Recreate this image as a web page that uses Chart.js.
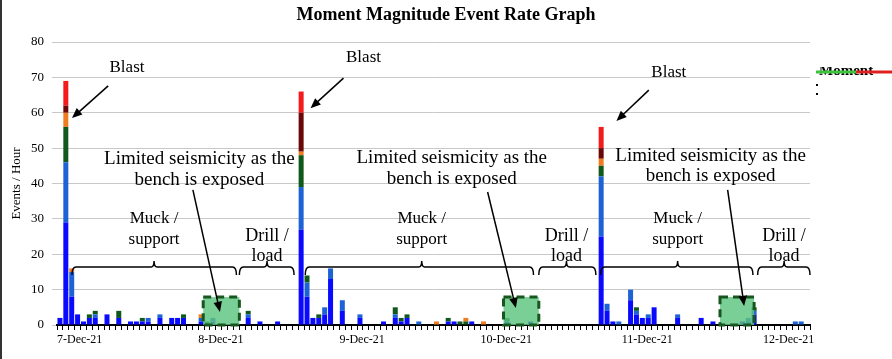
<!DOCTYPE html>
<html>
<head>
<meta charset="utf-8">
<script src="https://cdn.jsdelivr.net/npm/chart.js@4.4.7/dist/chart.umd.min.js"></script>
<style>
  html, body { margin: 0; padding: 0; background: #fff; }
</style>
</head>
<body>
<canvas id="chart" width="892" height="359"></canvas>
<script>
// one bar per hour, 7-Dec-21 00:00 onwards
const days = ['7-Dec-21', '8-Dec-21', '9-Dec-21', '10-Dec-21', '11-Dec-21', '12-Dec-21'];
const hourCount = 128;

const seriesNames = ['Mw < -2.5', '-2.5 to -2.0', '-2.0 to -1.5', '-1.5 to -1.0', '-1.0 to -0.5', 'Mw > -0.5'];
const seriesColors = ['#0a0aff', '#1e63d6', '#10581c', '#f07c22', '#6a0808', '#f21c1c'];

// events per hour, one line per day
const band1 = [
  2,29,8,3,1,2,2,0,3,0,2,0,1,1,1,1,0,2,0,2,2,2,0,0,
  1,0,1,0,0,0,0,0,2,0,1,0,0,1,0,0,0,27,8,2,2,3,13,0,
  4,0,0,2,0,0,0,1,0,2,1,2,0,0,0,0,0,0,1,1,0,0,1,0,
  0,0,0,0,1,0,0,0,1,0,0,0,0,0,0,0,0,0,0,0,25,4,1,0,
  0,7,3,2,2,5,0,0,0,2,0,0,0,2,0,1,0,0,0,0,1,1,3,0,
  0,0,0,0,0,0,0,0
];
const band2 = [
  0,17,7,0,0,0,1,0,0,0,0,0,0,0,0,1,0,1,0,0,0,0,0,0,
  1,0,1,0,0,0,0,0,1,0,0,0,0,0,0,0,0,12,4,0,0,2,3,0,
  3,0,0,1,0,0,0,0,0,1,0,0,0,1,0,0,0,0,0,0,0,0,0,0,
  0,0,0,0,0,0,0,0,0,0,0,0,0,0,0,0,0,0,0,0,17,2,0,1,
  0,3,1,0,1,0,0,0,0,1,0,0,0,0,0,0,0,0,0,0,0,1,1,0,
  0,0,0,0,0,1,1,0
];
const band3 = [
  0,10,0,0,0,1,1,0,0,0,2,0,0,0,1,0,0,0,0,0,0,1,0,0,
  0,1,0,0,0,0,0,0,1,0,0,0,0,0,0,0,0,9,2,0,1,0,0,0,
  0,0,0,0,0,0,0,0,0,2,1,1,0,0,0,0,0,0,1,0,1,1,0,0,
  0,0,0,0,1,0,0,0,0,0,0,0,0,0,0,0,0,0,0,0,3,0,0,0,
  0,0,1,0,0,0,0,0,0,0,0,0,0,0,0,0,0,0,0,0,0,0,1,0,
  0,0,0,0,0,0,0,0
];
const band4 = [
  0,4,1,0,0,0,0,0,0,0,0,0,0,0,0,0,0,0,0,0,0,0,0,0,
  1,0,0,0,0,0,0,0,0,0,0,0,0,0,0,0,0,1,0,0,0,0,0,0,
  0,0,0,0,0,0,0,0,0,0,0,0,0,0,0,0,1,0,0,0,0,1,0,0,
  1,0,0,0,0,0,0,0,0,0,0,0,0,0,0,0,0,0,0,0,2,0,0,0,
  0,0,0,0,0,0,0,0,0,0,0,0,0,0,0,0,0,0,0,0,0,0,0,0,
  0,0,0,0,0,0,0,0
];
const band5 = [
  0,2,0,0,0,0,0,0,0,0,0,0,0,0,0,0,0,0,0,0,0,0,0,0,
  0,0,0,0,0,0,0,0,0,0,0,0,0,0,0,0,0,11,0,0,0,0,0,0,
  0,0,0,0,0,0,0,0,0,0,0,0,0,0,0,0,0,0,0,0,0,0,0,0,
  0,0,0,0,0,0,0,0,0,0,0,0,0,0,0,0,0,0,0,0,3,0,0,0,
  0,0,0,0,0,0,0,0,0,0,0,0,0,0,0,0,0,0,0,0,0,0,0,0,
  0,0,0,0,0,0,0,0
];
const band6 = [
  0,7,0,0,0,0,0,0,0,0,0,0,0,0,0,0,0,0,0,0,0,0,0,0,
  0,0,0,0,0,0,0,0,0,0,0,0,0,0,0,0,0,6,0,0,0,0,0,0,
  0,0,0,0,0,0,0,0,0,0,0,0,0,0,0,0,0,0,0,0,0,0,0,0,
  0,0,0,0,0,0,0,0,0,0,0,0,0,0,0,0,0,0,0,0,6,0,0,0,
  0,0,0,0,0,0,0,0,0,0,0,0,0,0,0,0,0,0,0,0,0,0,0,0,
  0,0,0,0,0,0,0,0
];
const bands = [band1, band2, band3, band4, band5, band6];

// notes, x in hours from the axis start, y in events / hour
const blastNotes = [
  { text: [11.9, 72.9], from: [8.7, 67.6], to: [2.55, 58.5] },
  { text: [52.1, 75.5], from: [48.7, 69.8], to: [43.1, 61.3] },
  { text: [104, 71.5], from: [100.6, 66.4], to: [95.1, 57.7] }
];
const quietNotes = [
  { text: [24.2, 46.9, 41.0], from: [23.1, 38.2], to: [27.7, 3.7], box: [24.85, 31, 0, 7.9] },
  { text: [67.1, 47.2, 41.3], from: [73.2, 37.6], to: [78, 4.8], box: [75.9, 81.9, 0, 7.9] },
  { text: [111.1, 47.8, 42.1], from: [114, 38.2], to: [116.8, 5.4], box: [112.7, 118.5, 0, 7.9] }
];
const braces = [
  { from: 2.55, to: 30.5, mid: 16.5, lines: ['Muck /', 'support'] },
  { from: 31.0, to: 40.3, mid: 35.7, lines: ['Drill /', 'load'] },
  { from: 42.2, to: 81.0, mid: 62.0, lines: ['Muck /', 'support'] },
  { from: 81.9, to: 91.6, mid: 86.6, lines: ['Drill /', 'load'] },
  { from: 92.4, to: 118.3, mid: 105.5, lines: ['Muck /', 'support'] },
  { from: 119.1, to: 128, mid: 123.6, lines: ['Drill /', 'load'] }
];

const labels = [];
for (let i = 0; i < hourCount; i++) {
  labels.push(days[Math.floor(i / 24)] + ' ' + String(i % 24).padStart(2, '0') + ':00');
}

const serif = '"Liberation Serif", "Times New Roman", serif';

function arrow(ctx, x0, y0, x1, y1) {
  const a = Math.atan2(y1 - y0, x1 - x0);
  ctx.beginPath();
  ctx.moveTo(x0, y0);
  ctx.lineTo(x1 - 6 * Math.cos(a), y1 - 6 * Math.sin(a));
  ctx.stroke();
  ctx.beginPath();
  ctx.moveTo(x1, y1);
  ctx.lineTo(x1 - 11 * Math.cos(a - 0.4), y1 - 11 * Math.sin(a - 0.4));
  ctx.lineTo(x1 - 11 * Math.cos(a + 0.4), y1 - 11 * Math.sin(a + 0.4));
  ctx.closePath();
  ctx.fill();
}

const notesPlugin = {
  id: 'notes',
  beforeDraw(chart) {
    const ctx = chart.ctx;
    ctx.save();
    ctx.fillStyle = '#fff';
    ctx.fillRect(0, 0, chart.width, chart.height);
    ctx.fillStyle = '#333';
    ctx.fillRect(0, 0, 2, chart.height);
    ctx.restore();
  },
  afterDatasetsDraw(chart) {
    const ctx = chart.ctx;
    const xs = chart.scales.x, ys = chart.scales.y;
    const hx = h => xs.left + h * xs.width / hourCount;
    const vy = v => ys.getPixelForValue(v);
    ctx.save();

    // green boxes
    quietNotes.forEach(n => {
      const [h0, h1, v0, v1] = n.box;
      ctx.fillStyle = 'rgba(92,196,126,0.82)';
      ctx.fillRect(hx(h0), vy(v1), hx(h1) - hx(h0), vy(v0) - vy(v1));
      ctx.setLineDash([8, 5]);
      ctx.lineWidth = 3;
      ctx.strokeStyle = '#17561f';
      ctx.strokeRect(hx(h0), vy(v1), hx(h1) - hx(h0), vy(v0) - vy(v1));
      ctx.setLineDash([]);
    });

    ctx.fillStyle = '#000';
    ctx.strokeStyle = '#000';
    ctx.lineWidth = 1.5;
    ctx.textAlign = 'center';
    ctx.textBaseline = 'middle';

    ctx.font = '17px ' + serif;
    blastNotes.forEach(n => {
      ctx.fillText('Blast', hx(n.text[0]), vy(n.text[1]));
      arrow(ctx, hx(n.from[0]), vy(n.from[1]), hx(n.to[0]), vy(n.to[1]));
    });

    ctx.font = '19px ' + serif;
    quietNotes.forEach(n => {
      ctx.fillText('Limited seismicity as the', hx(n.text[0]), vy(n.text[1]));
      ctx.fillText('bench is exposed', hx(n.text[0]), vy(n.text[2]));
      arrow(ctx, hx(n.from[0]), vy(n.from[1]), hx(n.to[0]), vy(n.to[1]));
    });

    braces.forEach(b => {
      const x0 = hx(b.from), x1 = hx(b.to), xm = hx(b.mid);
      const y = vy(16.4);
      ctx.beginPath();
      ctx.moveTo(x0, y + 8);
      ctx.quadraticCurveTo(x0, y, x0 + 4, y);
      ctx.lineTo(xm - 3, y);
      ctx.quadraticCurveTo(xm, y, xm, y - 6);
      ctx.quadraticCurveTo(xm, y, xm + 3, y);
      ctx.lineTo(x1 - 4, y);
      ctx.quadraticCurveTo(x1, y, x1, y + 8);
      ctx.stroke();
      const drill = b.lines[0] === 'Drill /';
      ctx.font = (drill ? '18px ' : '17px ') + serif;
      ctx.fillText(b.lines[0], xm, vy(drill ? 25.2 : 30.0));
      ctx.fillText(b.lines[1], xm, vy(drill ? 19.5 : 24.3));
    });
    ctx.restore();
  },
  afterDraw(chart) {
    // clipped legend stub on the right
    const ctx = chart.ctx;
    const x = chart.chartArea.right + 6;
    ctx.save();
    ctx.font = 'bold 15px ' + serif;
    ctx.fillStyle = '#000';
    ctx.textBaseline = 'alphabetic';
    ctx.fillText('Moment', x + 3, 75);
    ctx.fillStyle = '#fff';
    ctx.fillRect(x, 60, 90, 7);
    ctx.lineWidth = 3;
    ctx.strokeStyle = '#3cc23c';
    ctx.beginPath(); ctx.moveTo(x, 72); ctx.lineTo(x + 40, 72); ctx.stroke();
    ctx.strokeStyle = '#e02020';
    ctx.beginPath(); ctx.moveTo(x + 40, 72); ctx.lineTo(x + 80, 72); ctx.stroke();
    ctx.fillStyle = '#000';
    ctx.fillRect(x, 84, 2, 2);
    ctx.fillRect(x, 93, 2, 2);
    ctx.restore();
  }
};

new Chart(document.getElementById('chart'), {
  type: 'bar',
  data: {
    labels: labels,
    datasets: bands.map((b, i) => ({
      label: seriesNames[i],
      data: b,
      backgroundColor: seriesColors[i],
      borderWidth: 0,
      barPercentage: 0.85,
      categoryPercentage: 1.0
    }))
  },
  options: {
    responsive: false,
    animation: false,
    layout: { padding: 0 },
    plugins: {
      legend: { display: false },
      tooltip: { enabled: false },
      title: {
        display: true,
        text: 'Moment Magnitude Event Rate Graph',
        color: '#000',
        font: { family: serif, size: 18, weight: 'bold' },
        padding: { top: 5, bottom: 15.4 }
      }
    },
    scales: {
      x: {
        stacked: true,
        offset: true,
        grid: { display: true, drawOnChartArea: false, drawTicks: true, tickLength: 5, color: '#000', offset: true },
        border: { display: true, color: '#000', width: 2 },
        ticks: {
          autoSkip: false,
          maxRotation: 0,
          minRotation: 0,
          align: 'start',
          labelOffset: -2.9,
          padding: 3,
          color: '#000',
          font: { family: serif, size: 12 },
          callback: (v, i) => (i % 24 === 0 ? days[i / 24] : '')
        },
        afterFit: s => { s.height = 34; }
      },
      y: {
        stacked: true,
        min: 0,
        max: 80,
        ticks: { stepSize: 10, color: '#000', padding: 8, font: { family: serif, size: 13 } },
        grid: { color: '#c8c8c8', tickLength: 5 },
        border: { display: false },
        title: {
          display: true,
          text: 'Events / Hour',
          color: '#000',
          font: { family: serif, size: 13 },
          padding: { top: 9, bottom: 0 }
        },
        afterFit: s => { s.width = 57; }
      },
      // empty strip on the right where the legend sits
      side: {
        position: 'right',
        display: true,
        min: 0,
        max: 80,
        ticks: { display: false },
        grid: { display: false },
        border: { display: false },
        afterFit: s => { s.width = 82; }
      }
    }
  },
  plugins: [notesPlugin]
});
</script>
</body>
</html>
